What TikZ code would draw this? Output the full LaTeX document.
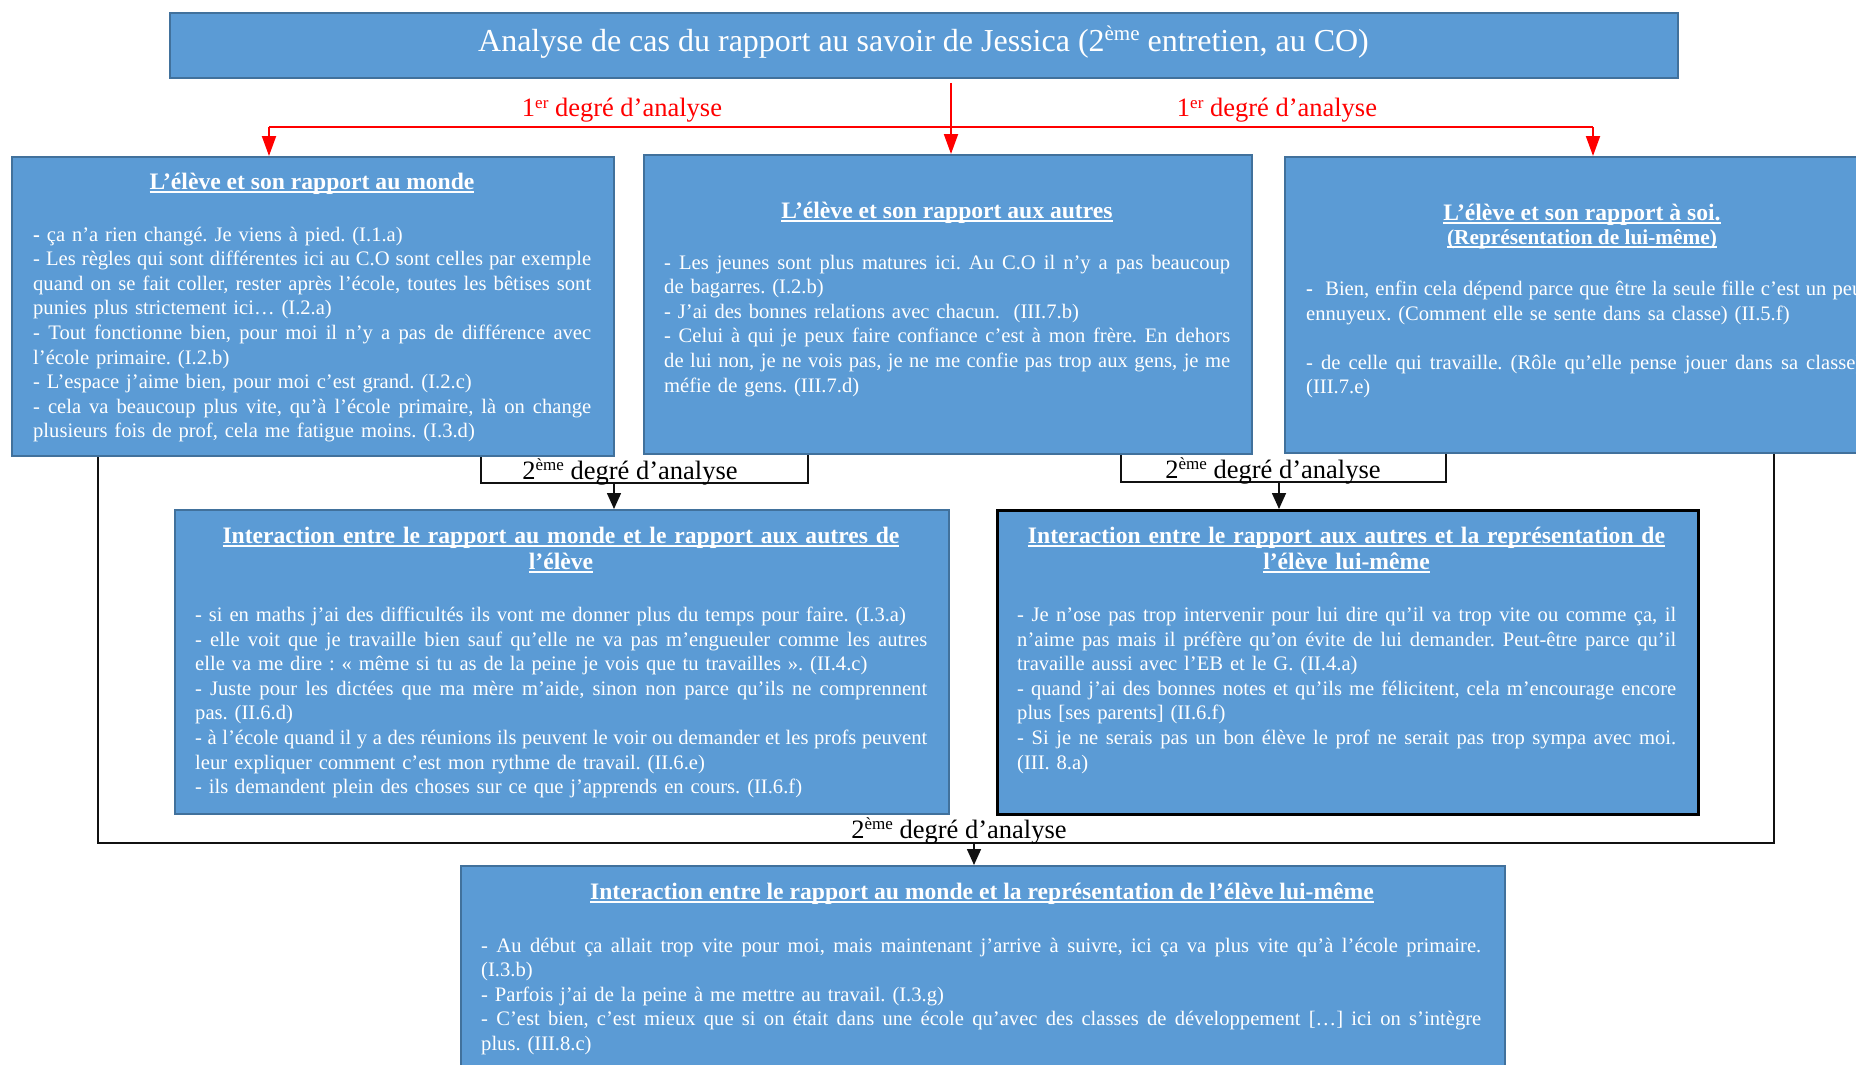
\documentclass[tikz,border=0pt]{standalone}
\usepackage{fontspec}
\setmainfont{Liberation Serif}
\usetikzlibrary{arrows.meta,calc}

\definecolor{panelfill}{HTML}{5B9BD5}
\definecolor{paneledge}{HTML}{41719C}
\definecolor{firstdeg}{HTML}{FF0000}
\definecolor{seconddeg}{HTML}{111111}

% underline at a fixed depth, crossing the descenders
\newsavebox\ulinebox
\newcommand\uline[1]{\sbox\ulinebox{#1}\usebox\ulinebox\llap{\rule[-3.6pt]{\wd\ulinebox}{1.7pt}}}
% justified line (spread to \rowwd) / plain line
\newlength\rowwd
\newcommand\jl[1]{\leavevmode\hbox to\rowwd{\spaceskip=0.25em plus 0.8em minus 0.09em\relax #1}}
\newcommand\nl[1]{\mbox{#1}}
\newcommand\suptitle[1]{\raisebox{11pt}{\fontsize{21}{21}\selectfont #1}}
\newcommand\suplabel[1]{\raisebox{9pt}{\fontsize{17}{17}\selectfont #1}}

\tikzset{
  panel/.style={draw=paneledge, line width=2.4pt, fill=panelfill, anchor=north west, inner sep=0pt},
  strongpanel/.style={panel, draw=black, line width=3pt},
  bodytext/.style={anchor=base west, inner sep=0pt, text=white, align=left,
    font=\frenchspacing\fontsize{20.6}{24.6}\selectfont},
  headtext/.style={anchor=base, inner sep=0pt, text=white, align=center,
    font=\frenchspacing\bfseries\fontsize{23.6}{26.5}\selectfont},
  subheadtext/.style={headtext, font=\bfseries\fontsize{21.3}{24}\selectfont},
  toptext/.style={anchor=base, inner sep=0pt, text=white, font=\fontsize{32}{36}\selectfont},
  redlabel/.style={anchor=base, inner sep=0pt, text=firstdeg, font=\fontsize{26.5}{30}\selectfont},
  blacklabel/.style={anchor=base, inner sep=0pt, text=black, font=\fontsize{26.5}{30}\selectfont},
  redwire/.style={draw=firstdeg, line width=2pt},
  redarrow/.style={redwire, -{Triangle[length=20pt,width=14pt]}},
  wire/.style={draw=seconddeg, line width=1.6pt},
  wirearrow/.style={wire, -{Triangle[length=16pt,width=14pt]}},
}

\begin{document}
\begin{tikzpicture}[x=1pt,y=-1pt]
\useasboundingbox (0,0) rectangle (1856,1065);
\clip (0,0) rectangle (1856,1065);
\fill[white] (0,0) rectangle (1856,1065);

% ---- panels ----
\node[panel, minimum width=1508pt, minimum height=65pt] (top) at (169,12) {};
\node[panel, minimum width=602pt, minimum height=299pt] (b1) at (11,156) {};
\node[panel, minimum width=608pt, minimum height=299pt] (b2) at (643,154) {};
\node[panel, minimum width=600pt, minimum height=296pt] (b3) at (1284,156) {};
\node[panel, minimum width=774pt, minimum height=304pt] (b4) at (174,509) {};
\node[strongpanel, minimum width=701pt, minimum height=304pt] (b5) at (996,509) {};
\node[panel, minimum width=1044pt, minimum height=230pt] (b6) at (460,865) {};

% ---- main title ----
\node[toptext] (toptitle) at (923.5,52)
  {Analyse de cas du rapport au savoir de Jessica (2\suptitle{ème} entretien, au CO)};

% ---- first degree of analysis ----
\coordinate (split) at (951,83);
\coordinate (leftfork) at (269,127);
\coordinate (rightfork) at (1593,127);
\draw[redwire] (leftfork) -- (rightfork);
\draw[redarrow] (split) -- (split |- b2.north);
\draw[redarrow] (leftfork) -- (leftfork |- b1.north);
\draw[redarrow] (rightfork) -- (rightfork |- b3.north);
\node[redlabel] (deg1a) at (622,117) {1\suplabel{er} degré d’analyse};
\node[redlabel] (deg1b) at (1277,117) {1\suplabel{er} degré d’analyse};

% ---- second degree: world / others ----
\coordinate (k1l) at (481,483);
\coordinate (k1r) at (808,483);
\coordinate (k1m) at (614,483);
\draw[wire] (k1l |- b1.south) -- (k1l) -- (k1r) -- (k1r |- b2.south);
\draw[wirearrow] (k1m) -- (k1m |- b4.north);
\node[blacklabel] (deg2a) at (630,479) {2\suplabel{ème} degré d’analyse};

% ---- second degree: others / self ----
\coordinate (k2l) at (1121,482);
\coordinate (k2r) at (1446,482);
\coordinate (k2m) at (1279,482);
\draw[wire] (k2l |- b2.south) -- (k2l) -- (k2r) -- (k2r |- b3.south);
\draw[wirearrow] (k2m) -- (k2m |- b5.north);
\node[blacklabel] (deg2b) at (1273,478) {2\suplabel{ème} degré d’analyse};

% ---- second degree: world / self ----
\coordinate (k3l) at (98,843);
\coordinate (k3r) at (1774,843);
\coordinate (k3m) at (974,843);
\draw[wire] (k3l |- b1.south) -- (k3l) -- (k3r) -- (k3r |- b3.south);
\draw[wirearrow] (k3m) -- (k3m |- b6.north);
\node[blacklabel] (deg2c) at (959,838) {2\suplabel{ème} degré d’analyse};

% ---- panel headings ----
\node[headtext] (h1) at (312,189) {\uline{L’élève et son rapport au monde}};
\node[headtext] (h2) at (947,218) {\uline{L’élève et son rapport aux autres}};
\node[headtext] (h3) at (1582,220) {\uline{L’élève et son rapport à soi.}};
\node[subheadtext] (h3b) at (1582,244) {\uline{(Représentation de lui-même)}};
\node[headtext, text width=740pt] (h4) at (561,543)
  {\uline{Interaction entre le rapport au monde et le rapport aux autres de}\\\uline{l’élève}};
\node[headtext, text width=680pt] (h5) at (1346.5,543)
  {\uline{Interaction entre le rapport aux autres et la représentation de}\\\uline{l’élève lui-même}};
\node[headtext] (h6) at (982,899)
  {\uline{Interaction entre le rapport au monde et la représentation de l’élève lui-même}};

% ---- panel texts ----
\node[bodytext, text width=558pt] (t1) at (33,241) {\setlength\rowwd{558pt}%
\nl{\textbf{-} ça n’a rien changé. Je viens à pied. (I.1.a)}\\
\jl{- Les règles qui sont différentes ici au C.O sont celles par exemple}\\
\jl{quand on se fait coller, rester après l’école, toutes les bêtises sont}\\
\nl{punies plus strictement ici… (I.2.a)}\\
\jl{- Tout fonctionne bien, pour moi il n’y a pas de différence avec}\\
\nl{l’école primaire. (I.2.b)}\\
\nl{- L’espace j’aime bien, pour moi c’est grand. (I.2.c)}\\
\jl{- cela va beaucoup plus vite, qu’à l’école primaire, là on change}\\
\nl{plusieurs fois de prof, cela me fatigue moins. (I.3.d)}};

\node[bodytext, text width=566pt] (t2) at (664,269) {\setlength\rowwd{566pt}%
\jl{- Les jeunes sont plus matures ici. Au C.O il n’y a pas beaucoup}\\
\nl{de bagarres. (I.2.b)}\\
\nl{- J’ai des bonnes relations avec chacun.\ \ (III.7.b)}\\
\jl{- Celui à qui je peux faire confiance c’est à mon frère. En dehors}\\
\jl{de lui non, je ne vois pas, je ne me confie pas trop aux gens, je me}\\
\nl{méfie de gens. (III.7.d)}};

\node[bodytext, text width=556pt] (t3) at (1306,295.5) {\setlength\rowwd{556pt}%
\jl{\textbf{-}\ \ Bien, enfin cela dépend parce que être la seule fille c’est un peu}\\
\nl{ennuyeux. (Comment elle se sente dans sa classe) (II.5.f)}\\[24.6pt]
\jl{- de celle qui travaille. (Rôle qu’elle pense jouer dans sa classe)}\\
\nl{(III.7.e)}};

\node[bodytext, text width=732pt] (t4) at (195,621.5) {\setlength\rowwd{732pt}%
\nl{- si en maths j’ai des difficultés ils vont me donner plus du temps pour faire. (I.3.a)}\\
\jl{- elle voit que je travaille bien sauf qu’elle ne va pas m’engueuler comme les autres}\\
\nl{elle va me dire : « même si tu as de la peine je vois que tu travailles ». (II.4.c)}\\
\jl{- Juste pour les dictées que ma mère m’aide, sinon non parce qu’ils ne comprennent}\\
\nl{pas. (II.6.d)}\\
\jl{- à l’école quand il y a des réunions ils peuvent le voir ou demander et les profs peuvent}\\
\nl{leur expliquer comment c’est mon rythme de travail. (II.6.e)}\\
\nl{- ils demandent plein des choses sur ce que j’apprends en cours. (II.6.f)}};

\node[bodytext, text width=659pt] (t5) at (1017,621.5) {\setlength\rowwd{659pt}%
\jl{- Je n’ose pas trop intervenir pour lui dire qu’il va trop vite ou comme ça, il}\\
\jl{n’aime pas mais il préfère qu’on évite de lui demander. Peut-être parce qu’il}\\
\nl{travaille aussi avec l’EB et le G. (II.4.a)}\\
\jl{- quand j’ai des bonnes notes et qu’ils me félicitent, cela m’encourage encore}\\
\nl{plus [ses parents] (II.6.f)}\\
\jl{- Si je ne serais pas un bon élève le prof ne serait pas trop sympa avec moi.}\\
\nl{(III. 8.a)}};

\node[bodytext, text width=1000pt] (t6) at (481,952) {\setlength\rowwd{1000pt}%
\jl{- Au début ça allait trop vite pour moi, mais maintenant j’arrive à suivre, ici ça va plus vite qu’à l’école primaire.}\\
\nl{(I.3.b)}\\
\nl{- Parfois j’ai de la peine à me mettre au travail. (I.3.g)}\\
\jl{- C’est bien, c’est mieux que si on était dans une école qu’avec des classes de développement […] ici on s’intègre}\\
\nl{plus. (III.8.c)}};

\end{tikzpicture}
\end{document}
